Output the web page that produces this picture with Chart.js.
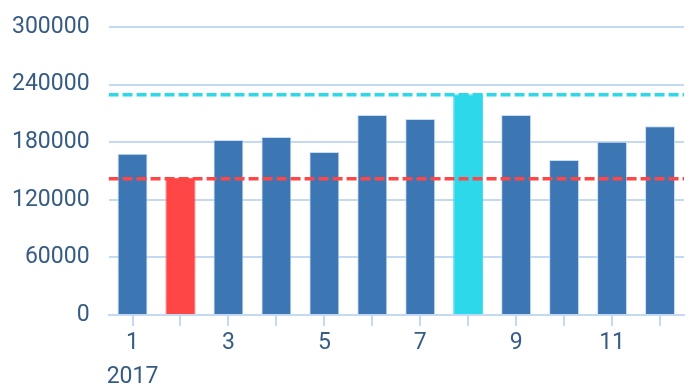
<!DOCTYPE html>
<html>
<head>
<meta charset="utf-8">
<script src="https://cdn.jsdelivr.net/npm/chart.js@4"></script>
<style>
  html, body { margin: 0; padding: 0; background: #fff; }
  #wrap { width: 694px; height: 386px; }
</style>
</head>
<body>
<div id="wrap"><canvas id="chart"></canvas></div>
<script>
// Monthly values, 2017
const months = [['1', '2017'], '2', '3', '4', '5', '6', '7', '8', '9', '10', '11', '12'];
const values = [168000, 143000, 182300, 185400, 169800, 208300, 204200, 230000, 208300, 161500, 180500, 196500];
const minLine = 142000;
const maxLine = 229500;
const yTicks = [0, 60000, 120000, 180000, 240000, 300000];

const BLUE = '#3c77b4';
const RED = '#ff4646';
const CYAN = '#2dd8ea';
const GRID = '#c4daf3';
const TEXT = '#375c84';

const minIdx = values.indexOf(Math.min(...values));
const maxIdx = values.indexOf(Math.max(...values));
const barColors = values.map((v, i) => i === minIdx ? RED : (i === maxIdx ? CYAN : BLUE));

Chart.defaults.font.family = 'Roboto';
Chart.defaults.color = TEXT;

new Chart(document.getElementById('chart'), {
    type: 'bar',
    data: {
        labels: months,
        datasets: [
            {
                type: 'line',
                xAxisID: 'x2',
                data: [{ x: 0, y: maxLine }, { x: 1, y: maxLine }],
                borderColor: CYAN,
                borderWidth: 3.5,
                borderDash: [10, 4],
                pointRadius: 0,
                order: 0
            },
            {
                type: 'line',
                xAxisID: 'x2',
                data: [{ x: 0, y: minLine }, { x: 1, y: minLine }],
                borderColor: RED,
                borderWidth: 3.5,
                borderDash: [10, 4],
                pointRadius: 0,
                order: 0
            },
            {
                xAxisID: 'x',
                data: values,
                backgroundColor: barColors,
                borderColor: values.map((v, i) => i === minIdx || i === maxIdx ? barColors[i] : '#c9def6'),
                borderWidth: 1,
                grouped: false,
                categoryPercentage: 1,
                barPercentage: 0.625,
                order: 1
            }
        ]
    },
    options: {
        responsive: true,
        maintainAspectRatio: false,
        animation: false,
        layout: { padding: { left: 12, right: 10, top: 27, bottom: -8 } },
        plugins: { legend: { display: false }, tooltip: { enabled: false } },
        scales: {
            x: {
                offset: true,
                grid: { drawOnChartArea: false, drawTicks: true, tickLength: 11, color: GRID, lineWidth: 2, offset: false },
                border: { display: true, color: GRID, width: 2 },
                ticks: {
                    autoSkip: false,
                    maxRotation: 0,
                    padding: 0,
                    font: { size: 23, lineHeight: 1.48 },
                    callback: function (val, i) { return i % 2 === 0 ? this.getLabelForValue(val) : ''; }
                }
            },
            x2: {
                type: 'linear',
                display: false,
                offset: false,
                min: 0,
                max: 1
            },
            y: {
                min: 0,
                max: 300000,
                afterBuildTicks: (axis) => { axis.ticks = yTicks.map(v => ({ value: v })); },
                grid: { drawTicks: true, tickLength: 19, tickColor: 'rgba(0,0,0,0)', color: GRID, lineWidth: 2 },
                border: { display: false },
                ticks: { padding: 0, font: { size: 23 }, callback: (v) => String(v) }
            }
        }
    }
});
</script>
</body>
</html>
